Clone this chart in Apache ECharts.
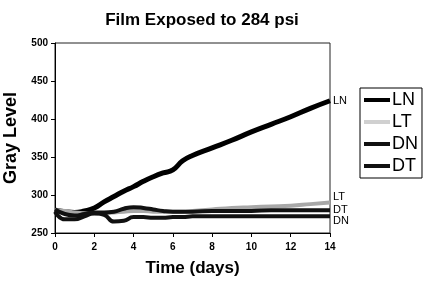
<!DOCTYPE html>
<html lang="en">
<head>
    <meta charset="UTF-8">
    <title>Film Exposed to 284 psi</title>
    <style>
        html, body { margin: 0; padding: 0; background: #fff; }
    </style>
</head>
<body>
<div id="main" style="width: 429px; height: 286px;"></div>

<script src="https://cdn.jsdelivr.net/npm/echarts@6/dist/echarts.min.js"></script>
<script type="text/javascript">
    // data
    var days = [0, 0.5, 1, 1.5, 2, 2.5, 3, 3.5, 4, 4.5, 5, 5.5, 6, 6.5, 7, 8, 9, 10, 11, 12, 13, 14];
    var LN = [280, 278, 277, 279, 283, 291, 298, 305, 311, 318, 324, 329, 333, 345, 352, 362, 372, 383, 393, 403, 414, 424];
    var LT = [280, 279, 277, 276, 275, 276, 277, 278, 279, 279, 278, 278, 278, 278, 279, 281, 283, 284, 285, 286, 288, 290];
    var DN = [278, 268, 268, 272, 276, 274, 265, 266, 271, 271, 270, 270, 271, 271, 272, 272, 272, 272, 272, 272, 272, 272];
    var DT = [281, 275, 273, 275, 277, 277, 278, 282, 284, 283, 281, 279, 278, 278, 278, 279, 279, 279, 280, 280, 280, 280];
    var seriesNames = ['LN', 'LT', 'DN', 'DT'];

    function pairs(vals) {
        return days.map(function (d, i) { return [d, vals[i]]; });
    }

    var font = 'Liberation Sans, Arial, sans-serif';

    function makeSeries(name, vals, color, width, labelOffset) {
        return {
            name: name,
            type: 'line',
            smooth: true,
            symbol: 'none',
            data: pairs(vals),
            lineStyle: { color: color, width: width },
            itemStyle: { color: color },
            endLabel: {
                show: true,
                formatter: name,
                color: '#000',
                fontFamily: font,
                fontSize: 11,
                distance: 3,
                offset: labelOffset
            }
        };
    }

    var myChart = echarts.init(document.getElementById('main'));
    var option = {
        animation: false,
        title: {
            text: 'Film Exposed to 284 psi',
            left: 197,
            textAlign: 'center',
            top: 7,
            textStyle: { fontFamily: font, fontSize: 17, fontWeight: 'bold', color: '#000' }
        },
        legend: {
            orient: 'vertical',
            left: 360,
            top: 88,
            data: [
                { name: 'LN', icon: 'rect' },
                { name: 'LT', icon: 'rect', itemStyle: { color: '#d0d0d0' } },
                { name: 'DN', icon: 'rect' },
                { name: 'DT', icon: 'rect' }
            ],
            itemWidth: 26,
            itemHeight: 4,
            itemGap: 4,
            padding: [3, 4, 3, 4],
            borderColor: '#000',
            borderWidth: 1,
            textStyle: { fontFamily: font, fontSize: 18, color: '#000', padding: [0, 0, 0, -3] }
        },
        grid: {
            left: 55,
            right: 99,
            top: 43,
            bottom: 53,
            outerBoundsMode: 'none',
            show: true,
            borderColor: '#222',
            borderWidth: 1
        },
        xAxis: {
            type: 'value',
            min: 0,
            max: 14,
            interval: 2,
            name: 'Time (days)',
            nameLocation: 'middle',
            nameGap: 27,
            nameTextStyle: { fontFamily: font, fontSize: 17, fontWeight: 'bold', color: '#000' },
            axisLine: { lineStyle: { color: '#000', width: 1 } },
            axisTick: { length: 4, lineStyle: { color: '#000' } },
            axisLabel: { fontFamily: font, fontSize: 10, fontWeight: 'bold', color: '#000', margin: 9 },
            splitLine: { show: false }
        },
        yAxis: {
            type: 'value',
            min: 250,
            max: 500,
            interval: 50,
            name: 'Gray Level',
            nameLocation: 'middle',
            nameGap: 31,
            nameTextStyle: { fontFamily: font, fontSize: 18, fontWeight: 'bold', color: '#000' },
            axisLine: { show: true, lineStyle: { color: '#000', width: 1 } },
            axisTick: { show: true, length: 4, lineStyle: { color: '#000' } },
            axisLabel: { fontFamily: font, fontSize: 10, fontWeight: 'bold', color: '#000', margin: 7 },
            splitLine: { show: false }
        },
        series: [
            makeSeries('LN', LN, '#000', 5, [0, 0]),
            makeSeries('LT', LT, '#a8a8a8', 4, [0, -6]),
            makeSeries('DN', DN, '#111', 4, [0, 5]),
            makeSeries('DT', DT, '#111', 4, [0, 0])
        ]
    };
    myChart.setOption(option);
</script>

</body>
</html>
